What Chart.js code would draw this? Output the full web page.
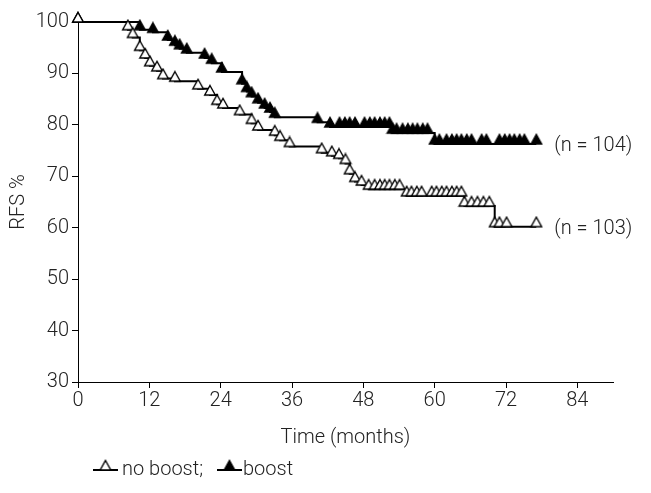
<!DOCTYPE html>
<html>
<head>
<meta charset="utf-8">
<script src="https://cdn.jsdelivr.net/npm/chart.js@4.4.0/dist/chart.umd.min.js"></script>
<style>
html, body { margin: 0; padding: 0; background: #fff; }
</style>
</head>
<body>
<canvas id="myChart" width="651" height="493"></canvas>
<script>
// RFS curves (months, %)
var noBoostMonths = [0, 8.4, 9.2, 10.4, 11.3, 12.1, 13.3, 14.3, 16.3, 20.2, 22.2, 23.4, 24.4, 27.2, 29.2, 30.3, 33.1, 34.0, 35.6,
  41.0, 42.7, 43.9, 45.0, 45.7, 46.6, 47.7, 48.9, 49.9, 50.8, 51.6, 52.4, 53.3, 54.1,
  55.3, 56.1, 57.0, 57.8, 59.5, 60.3, 61.2, 62.0, 62.9, 63.7, 64.5,
  65.0, 66.2, 67.2, 68.2, 69.2, 70.1, 70.9, 72.1, 77.1];
var noBoostRfs = [100, 98.5, 97, 94.5, 93, 91.5, 90.5, 89, 88.5, 87, 85.8, 84, 83.3, 82, 80.3, 79, 78, 77, 75.8,
  74.6, 74, 73.5, 72.5, 70.5, 69, 68.3, 67.5, 67.5, 67.5, 67.5, 67.5, 67.5, 67.5,
  66.2, 66.2, 66.2, 66.2, 66.2, 66.2, 66.2, 66.2, 66.2, 66.2, 66.2,
  64.2, 64.2, 64.2, 64.2, 64.2, 60.2, 60.2, 60.2, 60.2];

var boostMonths = [0, 10.4, 12.6, 15.1, 16.3, 17.1, 18.3, 21.3, 22.5, 24.2, 27.6, 28.4, 29.2, 30.3, 31.4, 32.3, 33.1, 40.3, 42.4,
  44.0, 44.9, 45.7, 46.6, 48.2, 49.1, 49.9, 50.8, 51.6, 52.4,
  52.9, 53.6, 54.6, 55.5, 56.3, 57.1, 58.0, 58.8,
  60.0, 60.8, 62.0, 62.9, 63.7, 64.5, 65.4, 66.2, 67.9, 68.7, 70.9, 71.8, 72.6, 73.4, 74.3, 75.1, 77.1];
var boostRfs = [100, 98.5, 98, 96.5, 95.5, 94.8, 94, 93, 92, 90.3, 88, 86.5, 85.5, 84.3, 83.3, 82.5, 81.5, 80.5, 79.6,
  79.6, 79.6, 79.6, 79.6, 79.6, 79.6, 79.6, 79.6, 79.6, 79.6,
  78.4, 78.4, 78.4, 78.4, 78.4, 78.4, 78.4, 78.4,
  76.3, 76.3, 76.3, 76.3, 76.3, 76.3, 76.3, 76.3, 76.3, 76.3, 76.3, 76.3, 76.3, 76.3, 76.3, 76.3, 76.3];

var xTicks = [0, 12, 24, 36, 48, 60, 72, 84];
var yTicks = [30, 40, 50, 60, 70, 80, 90, 100];
var seriesNames = ['no boost;', 'boost'];
var nLabels = ['(n = 103)', '(n = 104)'];

var fontFamily = 'Roboto, "Liberation Sans", sans-serif';
var textColor = '#222';
var fontSize = 20;

function toPoints(xs, ys) {
  var out = [];
  for (var i = 0; i < xs.length; i++) out.push({ x: xs[i], y: ys[i] });
  return out;
}

// triangle marker with its base on the centre row, so it sits on the curve
function makeTriangle(filled) {
  var c = document.createElement('canvas');
  c.width = 14;
  c.height = 22;
  var g = c.getContext('2d');
  g.beginPath();
  g.moveTo(7, 1.5);
  g.lineTo(12.3, 11);
  g.lineTo(1.7, 11);
  g.closePath();
  g.fillStyle = filled ? '#000' : '#fff';
  g.fill();
  g.lineWidth = 1.4;
  g.strokeStyle = '#000';
  g.stroke();
  return c;
}
var openTri = makeTriangle(false);
var fullTri = makeTriangle(true);

var extrasPlugin = {
  id: 'extras',
  afterDraw: function(chart) {
    var ctx = chart.ctx;
    var xs = chart.scales.x, ys = chart.scales.y;
    ctx.save();
    ctx.fillStyle = textColor;
    ctx.font = '300 ' + fontSize + 'px ' + fontFamily;
    ctx.textBaseline = 'middle';
    ctx.textAlign = 'left';
    // n labels next to curve ends
    var ends = [[noBoostMonths, noBoostRfs], [boostMonths, boostRfs]];
    for (var k = 0; k < 2; k++) {
      var m = ends[k][0], r = ends[k][1];
      var px = xs.getPixelForValue(m[m.length - 1]) + 18;
      var py = ys.getPixelForValue(r[r.length - 1]) + 2;
      ctx.fillText(nLabels[k], px, py);
    }
    // legend at bottom
    var ly = 470;
    var items = [[93, openTri, seriesNames[0]], [217, fullTri, seriesNames[1]]];
    for (var j = 0; j < items.length; j++) {
      var lx = items[j][0];
      ctx.strokeStyle = '#000';
      ctx.lineWidth = 2;
      ctx.beginPath();
      ctx.moveTo(lx, ly);
      ctx.lineTo(lx + 25, ly);
      ctx.stroke();
      ctx.drawImage(items[j][1], lx + 12.5 - 7, ly - 11);
      ctx.fillText(items[j][2], lx + (j == 0 ? 29 : 26), ly);
    }
    ctx.restore();
  }
};

var ctx = document.getElementById('myChart').getContext('2d');
var myChart = new Chart(ctx, {
  type: 'line',
  data: {
    datasets: [{
      label: seriesNames[0],
      data: toPoints(noBoostMonths, noBoostRfs),
      stepped: true,
      borderColor: '#000',
      borderWidth: 2,
      pointStyle: openTri,
      pointRadius: 5,
      fill: false,
      clip: false
    }, {
      label: seriesNames[1],
      data: toPoints(boostMonths, boostRfs),
      stepped: true,
      borderColor: '#000',
      borderWidth: 2,
      pointStyle: fullTri,
      pointRadius: 5,
      fill: false,
      clip: false
    }]
  },
  options: {
    responsive: false,
    animation: false,
    devicePixelRatio: 1,
    layout: { padding: { left: 0, top: 22, right: 38, bottom: 43 } },
    plugins: {
      legend: { display: false },
      tooltip: { enabled: false }
    },
    scales: {
      x: {
        type: 'linear',
        min: 0,
        max: 90,
        afterBuildTicks: function(s) { s.ticks = xTicks.map(function(v) { return { value: v }; }); },
        afterFit: function(s) { s.height = 68; },
        grid: { drawOnChartArea: false, drawTicks: true, tickLength: 6, color: '#000', lineWidth: 1 },
        border: { display: true, color: '#000', width: 1 },
        ticks: { color: textColor, font: { family: fontFamily, size: fontSize, weight: 300 }, padding: 1, maxRotation: 0, autoSkip: false },
        title: { display: true, text: 'Time (months)', color: textColor, font: { family: fontFamily, size: fontSize, weight: 300 }, padding: 0 }
      },
      y: {
        min: 30,
        max: 100,
        afterBuildTicks: function(s) { s.ticks = yTicks.map(function(v) { return { value: v }; }); },
        afterFit: function(s) { s.width = 78; },
        grid: { drawOnChartArea: false, drawTicks: true, tickLength: 6, color: '#000', lineWidth: 1 },
        border: { display: true, color: '#000', width: 1 },
        ticks: { color: textColor, font: { family: fontFamily, size: fontSize, weight: 300 }, padding: 3 },
        title: { display: true, text: 'RFS %', color: textColor, font: { family: fontFamily, size: fontSize, weight: 300 }, padding: { top: 7, bottom: 0 } }
      }
    }
  },
  plugins: [extrasPlugin]
});
</script>
</body>
</html>
